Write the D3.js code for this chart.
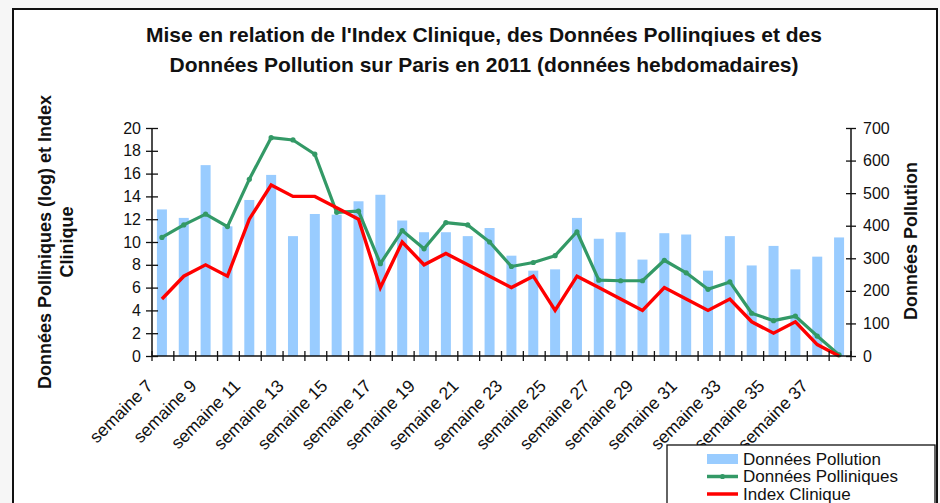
<!DOCTYPE html>
<html lang="fr">
<head>
<meta charset="utf-8">
<title>Index Clinique, Données Polliniques et Pollution - Paris 2011</title>
<script src="https://d3js.org/d3.v7.min.js"></script>
<style>
  html, body { margin: 0; padding: 0; background: #f6f6f6; }
  svg { display: block; font-family: "Liberation Sans", Arial, sans-serif; }
</style>
</head>
<body>
<script>
// weeks 7 .. 38
var semaines = ["semaine 7","semaine 8","semaine 9","semaine 10","semaine 11","semaine 12","semaine 13","semaine 14",
  "semaine 15","semaine 16","semaine 17","semaine 18","semaine 19","semaine 20","semaine 21","semaine 22",
  "semaine 23","semaine 24","semaine 25","semaine 26","semaine 27","semaine 28","semaine 29","semaine 30",
  "semaine 31","semaine 32","semaine 33","semaine 34","semaine 35","semaine 36","semaine 37","semaine 38"];

// right axis
var pollution = [450,424,586,398,479,556,368,436,434,475,495,416,380,380,368,393,
  308,262,266,424,360,380,296,377,373,262,368,278,338,266,305,364];

// left axis
var polliniques = [10.4,11.5,12.45,11.35,15.5,19.15,18.95,17.7,12.6,12.7,8.1,11.0,9.4,11.7,11.5,10.0,
  7.85,8.2,8.8,10.9,6.65,6.6,6.6,8.4,7.3,5.85,6.5,3.75,3.1,3.5,1.75,0.1];

var indexClinique = [5,7,8,7,12,15,14,14,13,12,6,10,8,9,8,7,
  6,7,4,7,6,5,4,6,5,4,5,3,2,3,1,0];

var ticksGauche = [0,2,4,6,8,10,12,14,16,18,20];
var ticksDroite = [0,100,200,300,400,500,600,700];

var W = 940, H = 503;
var xG = 152, xD = 851, yHaut = 128, yBas = 356;

var svg = d3.select("body").append("svg")
  .attr("width", W).attr("height", H);

// chart area frame
svg.append("rect")
  .attr("x", 13).attr("y", 9).attr("width", 924).attr("height", 510)
  .attr("fill", "#fff").attr("stroke", "#111").attr("stroke-width", 2);

// title
var titre = svg.append("text")
  .attr("text-anchor", "middle")
  .attr("font-weight", "bold").attr("font-size", 21).attr("fill", "#111");
titre.append("tspan").attr("x", 484).attr("y", 42)
  .text("Mise en relation de l'Index Clinique, des Données Pollinqiues et des");
titre.append("tspan").attr("x", 484).attr("y", 72)
  .text("Données Pollution sur Paris en 2011 (données hebdomadaires)");

var x = d3.scaleBand().domain(semaines).range([xG, xD]);
var yL = d3.scaleLinear().domain([0, 20]).range([yBas, yHaut]);
var yR = d3.scaleLinear().domain([0, 700]).range([yBas, yHaut]);

var cx = function(d, i) { return x(semaines[i]) + x.bandwidth() / 2 - 1; };

// bars
var bw = 10;
svg.append("g").selectAll("rect")
  .data(pollution).enter().append("rect")
  .attr("x", function(d, i) { return cx(d, i) - bw / 2; })
  .attr("y", function(d) { return yR(d); })
  .attr("width", bw)
  .attr("height", function(d) { return yBas - yR(d); })
  .attr("fill", "#99ccff");

// lines
var ligne = function(yScale) {
  return d3.line()
    .x(function(d, i) { return cx(d, i); })
    .y(function(d) { return yScale(d); });
};

svg.append("path")
  .attr("d", ligne(yL)(polliniques))
  .attr("fill", "none").attr("stroke", "#339966")
  .attr("stroke-width", 3.2).attr("stroke-linejoin", "round");

svg.append("g").selectAll("circle")
  .data(polliniques).enter().append("circle")
  .attr("cx", function(d, i) { return cx(d, i); })
  .attr("cy", function(d) { return yL(d); })
  .attr("r", 2.6).attr("fill", "#339966");

svg.append("path")
  .attr("d", ligne(yL)(indexClinique))
  .attr("fill", "none").attr("stroke", "#ff0000")
  .attr("stroke-width", 3.4).attr("stroke-linejoin", "miter");

// axes
var axeG = svg.append("g").attr("transform", "translate(" + xG + ",0)")
  .call(d3.axisLeft(yL).tickValues(ticksGauche).tickSize(6).tickFormat(d3.format("d")));
axeG.selectAll(".tick line").attr("x1", 6).attr("x2", -6);

var axeD = svg.append("g").attr("transform", "translate(" + xD + ",0)")
  .call(d3.axisRight(yR).tickValues(ticksDroite).tickSize(6).tickFormat(d3.format("d")));
axeD.selectAll(".tick line").attr("x1", -5).attr("x2", 5);

[axeG, axeD].forEach(function(a) {
  a.select(".domain").attr("stroke", "#111").attr("stroke-width", 1.5)
    .attr("d", "M0," + yHaut + "V" + yBas);
  a.selectAll(".tick line").attr("stroke", "#111").attr("stroke-width", 1.3);
  a.selectAll(".tick text").attr("font-size", 16).attr("fill", "#111")
    .attr("font-family", "Liberation Sans, Arial, sans-serif");
});
axeG.selectAll(".tick text").attr("x", -11);
axeD.selectAll(".tick text").attr("x", 12);

// x axis
var axeX = svg.append("g").attr("transform", "translate(0," + yBas + ")");
axeX.append("line").attr("x1", xG).attr("x2", xD)
  .attr("stroke", "#111").attr("stroke-width", 1.5);
axeX.selectAll("line.tk")
  .data(semaines.concat(["fin"])).enter().append("line")
  .attr("class", "tk")
  .attr("x1", function(d, i) { return xG + i * x.bandwidth(); })
  .attr("x2", function(d, i) { return xG + i * x.bandwidth(); })
  .attr("y1", -5).attr("y2", 5)
  .attr("stroke", "#111").attr("stroke-width", 1.3);

axeX.selectAll("text")
  .data(semaines.filter(function(d, i) { return i % 2 === 0 && i < 31; }))
  .enter().append("text")
  .attr("transform", function(d) {
    return "translate(" + (x(d) + x.bandwidth() / 2 - 9) + ",31) rotate(-45)";
  })
  .attr("text-anchor", "end")
  .attr("font-size", 17.5).attr("fill", "#111")
  .text(function(d) { return d; });

// axis titles
var titreG = svg.append("text")
  .attr("transform", "translate(51,242) rotate(-90)")
  .attr("text-anchor", "middle")
  .attr("font-weight", "bold").attr("font-size", 18).attr("fill", "#111");
titreG.append("tspan").attr("x", 0).attr("y", 0).text("Données Polliniques (log) et Index");
titreG.append("tspan").attr("x", 0).attr("y", 22).text("Clinique");

svg.append("text")
  .attr("transform", "translate(917,241) rotate(-90)")
  .attr("text-anchor", "middle")
  .attr("font-weight", "bold").attr("font-size", 18).attr("fill", "#111")
  .text("Données Pollution");

// legend
var leg = svg.append("g").attr("transform", "translate(667,445)");
leg.append("rect").attr("x", 0).attr("y", 0).attr("width", 268).attr("height", 70)
  .attr("fill", "#fff").attr("stroke", "#111").attr("stroke-width", 1.3);

var legende = [
  { nom: "Données Pollution", type: "barre", couleur: "#99ccff" },
  { nom: "Données Polliniques", type: "point", couleur: "#339966" },
  { nom: "Index Clinique", type: "ligne", couleur: "#ff0000" }
];
var item = leg.selectAll("g.item").data(legende).enter().append("g")
  .attr("transform", function(d, i) { return "translate(0," + (14 + i * 17.5) + ")"; });
item.filter(function(d) { return d.type === "barre"; }).append("rect")
  .attr("x", 40).attr("y", -5).attr("width", 31).attr("height", 10)
  .attr("fill", function(d) { return d.couleur; });
item.filter(function(d) { return d.type !== "barre"; }).append("line")
  .attr("x1", 40).attr("x2", 71).attr("y1", 0).attr("y2", 0)
  .attr("stroke", function(d) { return d.couleur; }).attr("stroke-width", 3.5);
item.filter(function(d) { return d.type === "point"; }).append("circle")
  .attr("cx", 55.5).attr("cy", 0).attr("r", 2.6)
  .attr("fill", function(d) { return d.couleur; });
item.append("text")
  .attr("x", 76).attr("y", 0).attr("dy", "0.35em")
  .attr("font-size", 17).attr("fill", "#111")
  .text(function(d) { return d.nom; });
</script>
</body>
</html>
